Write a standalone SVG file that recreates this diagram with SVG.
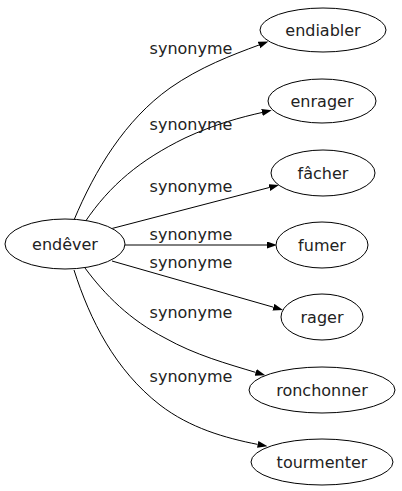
<svg xmlns="http://www.w3.org/2000/svg" width="402" height="491" viewBox="0 0 402 491">
<defs>
<style>
.n ellipse{fill:#fff;stroke:#000;stroke-width:1}
text{font-family:"DejaVu Sans",Verdana,sans-serif;font-size:16px;fill:#222;text-anchor:middle}
.e path{fill:none;stroke:#000;stroke-width:1}
</style>
<marker id="a" markerWidth="10" markerHeight="8" refX="0" refY="3.5" orient="auto" markerUnits="userSpaceOnUse">
<path d="M0,0 L10,3.5 L0,7 z" fill="#000"/>
</marker>
</defs>
<rect width="402" height="491" fill="#fff"/>
<g class="e" id="edges">
<path d="M74,220 C95,170 125,120 170,88 C200,67 232,55 259,45" marker-end="url(#a)"/>
<path d="M85,222 C110,185 140,160 185,138 C215,124 242,117 262,112.5" marker-end="url(#a)"/>
<path d="M110,229 L269.3,187.5" marker-end="url(#a)"/>
<path d="M125,245 L267,245" marker-end="url(#a)"/>
<path d="M112,261 L273.4,307.2" marker-end="url(#a)"/>
<path d="M85,268 C105,295 130,320 165,338 C195,355 228,364 255.7,372.4" marker-end="url(#a)"/>
<path d="M74,270 C90,320 115,370 160,405 C190,428 225,438 257.7,444.4" marker-end="url(#a)"/>
<text x="191" y="54">synonyme</text>
<text x="191" y="130">synonyme</text>
<text x="191" y="192">synonyme</text>
<text x="191" y="240">synonyme</text>
<text x="191" y="268">synonyme</text>
<text x="191" y="318">synonyme</text>
<text x="191" y="382">synonyme</text>
</g>
<g class="n" id="endever"><ellipse cx="65" cy="244" rx="60" ry="25"/><text x="65" y="250">endêver</text></g>
<g class="n" id="endiabler"><ellipse cx="323" cy="30" rx="63" ry="22"/><text x="323" y="36">endiabler</text></g>
<g class="n" id="enrager"><ellipse cx="322" cy="101" rx="54" ry="22"/><text x="322" y="107">enrager</text></g>
<g class="n" id="facher"><ellipse cx="323" cy="173" rx="52" ry="23"/><text x="323" y="179">fâcher</text></g>
<g class="n" id="fumer"><ellipse cx="322" cy="245" rx="46" ry="23"/><text x="322" y="251">fumer</text></g>
<g class="n" id="rager"><ellipse cx="322" cy="317" rx="41" ry="23"/><text x="322" y="323">rager</text></g>
<g class="n" id="ronchonner"><ellipse cx="322" cy="390" rx="73" ry="23"/><text x="322" y="396">ronchonner</text></g>
<g class="n" id="tourmenter"><ellipse cx="322" cy="462" rx="71" ry="23"/><text x="322" y="468">tourmenter</text></g>
</svg>
